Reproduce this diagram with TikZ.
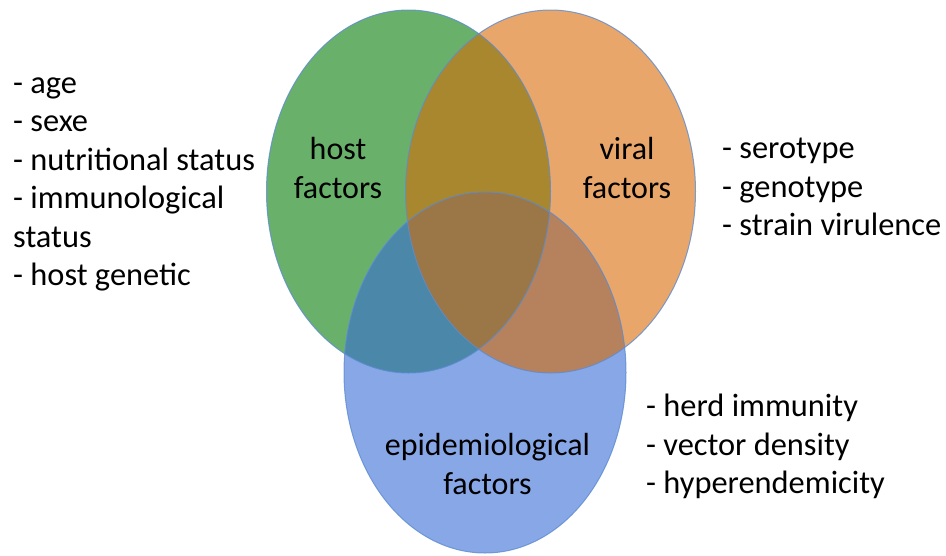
\documentclass[tikz,border=0pt]{standalone}
\usepackage{fontspec}
\setmainfont{Carlito}
\definecolor{cgreen}{RGB}{105,177,106}
\definecolor{corange}{RGB}{233,166,106}
\definecolor{cblue}{RGB}{136,167,231}
\definecolor{cgo}{RGB}{169,135,46}
\definecolor{cgb}{RGB}{74,135,168}
\definecolor{cob}{RGB}{182,130,94}
\definecolor{cgob}{RGB}{155,118,70}
\definecolor{cline}{RGB}{92,140,208}
\tikzset{
  lbl/.style={font=\fontsize{32}{39}\selectfont, inner sep=0pt, anchor=base},
  lst/.style={font=\fontsize{32.4}{39}\selectfont, inner sep=0pt, anchor=base west},
  outline/.style={draw=cline, line width=1pt, draw opacity=0.8}
}
\newcommand{\Gell}{(408.5,191.5) ellipse [x radius=142pt, y radius=181.5pt]}
\newcommand{\Oell}{(550.5,191.5) ellipse [x radius=145pt, y radius=181.5pt]}
\newcommand{\Bell}{(485,372.5) ellipse [x radius=141pt, y radius=180.5pt]}
\begin{document}
\begin{tikzpicture}[x=1pt,y=-1pt]
\useasboundingbox (0,0) rectangle (946,555);
% base fills
\fill[cgreen] \Gell;
\fill[corange] \Oell;
\fill[cblue] \Bell;
% pairwise overlaps
\begin{scope}\clip \Gell; \fill[cgo] \Oell; \end{scope}
\begin{scope}\clip \Gell; \fill[cgb] \Bell; \end{scope}
\begin{scope}\clip \Oell; \fill[cob] \Bell; \end{scope}
\begin{scope}\clip \Gell; \clip \Oell; \fill[cgob] \Bell; \end{scope}
% outlines
\path[outline] \Gell;
\path[outline] \Oell;
\path[outline] \Bell;
% circle labels
\node[lbl] (host1) at (338,159) {host};
\node[lbl] (host2) at (338,198) {factors};
\node[lbl] (viral1) at (627,159) {viral};
\node[lbl] (viral2) at (627,198) {factors};
\node[lbl] (epi1) at (487.5,455) {epidemiological};
\node[lbl] (epi2) at (487.5,494) {factors};
% host list
\node[lst] (h1) at (13,93) {- age};
\node[lst] (h2) at (13,131.5) {- sexe};
\node[lst] (h3) at (13,170) {- nutritional status};
\node[lst] (h4) at (13,208.5) {- immunological};
\node[lst] (h5) at (13,247) {status};
\node[lst] (h6) at (13,285) {- host genetic};
% viral list
\node[lst] (v1) at (722,158.5) {- serotype};
\node[lst] (v2) at (722,197) {- genotype};
\node[lst] (v3) at (722,235) {- strain virulence};
% epidemiological list
\node[lst] (e1) at (646,416.5) {- herd immunity};
\node[lst] (e2) at (646,455) {- vector density};
\node[lst] (e3) at (646,493) {- hyperendemicity};
\end{tikzpicture}
\end{document}
